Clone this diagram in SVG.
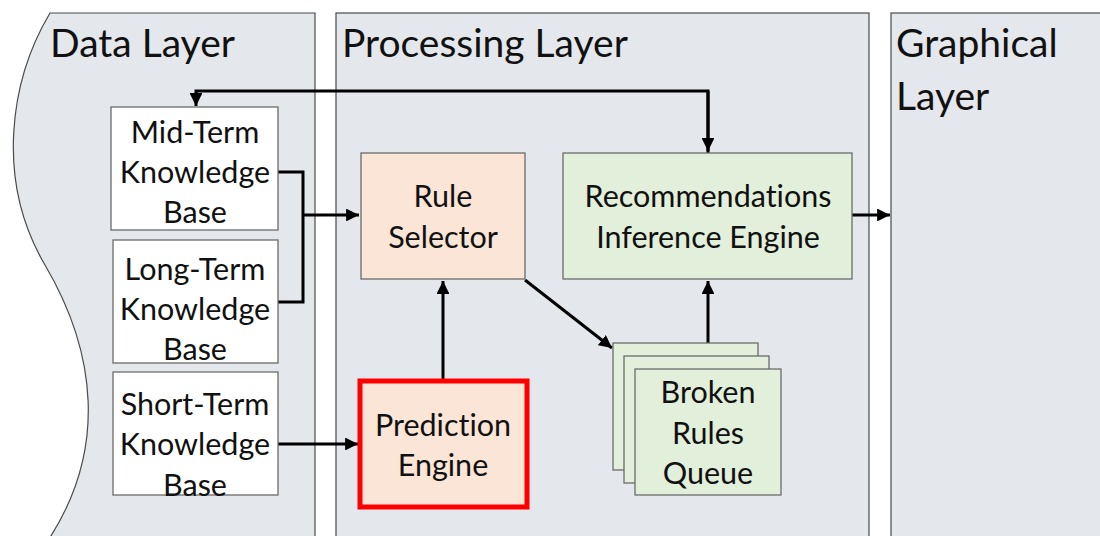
<svg xmlns="http://www.w3.org/2000/svg" width="1100" height="536" viewBox="0 0 1100 536">
<defs>
<style>
.panel{fill:#E4E7EB;stroke:#4a4a4a;stroke-width:1.2}
.node{stroke:#6b6b6b;stroke-width:1.3}
.white{fill:#ffffff}
.peach{fill:#FBE5D6}
.green{fill:#E2EFDA}
.t{font-family:Lato,"Open Sans","Liberation Sans",sans-serif;font-size:30.5px;fill:#111;text-anchor:middle;font-variant-ligatures:none}
.title{font-family:Lato,"Open Sans","Liberation Sans",sans-serif;font-size:39px;fill:#111;font-variant-ligatures:none}
.c{fill:none;stroke:#000;stroke-width:3}
</style>
<marker id="ah" viewBox="0 0 10 10" refX="10" refY="5" markerWidth="4.3" markerHeight="4.3" markerUnits="strokeWidth" orient="auto">
<path d="M0,0 L10,5 L0,10 Z" fill="#000"/>
</marker>
</defs>
<g id="data-layer">
<path class="panel" d="M315,13 H50 C10,80 -5,180 45,265 C95,350 110,450 45,545 H315 Z"/>
<text class="title" x="50" y="57">Data Layer</text>
</g>
<g id="processing-layer">
<rect class="panel" x="336" y="13" width="533" height="530"/>
<text class="title" x="342" y="57">Processing Layer</text>
</g>
<g id="graphical-layer">
<rect class="panel" x="891" y="13" width="220" height="530"/>
<text class="title" x="896" y="57">Graphical</text>
<text class="title" x="896" y="110">Layer</text>
</g>
<g id="connectors">
<polyline class="c" points="708,153 708,91 196,91 196,106" marker-end="url(#ah)"/>
<path class="c" d="M708,91 V151" marker-end="url(#ah)"/>
<polyline class="c" points="278,172 303,172 303,302 278,302"/>
<path class="c" d="M303,215 H359" marker-end="url(#ah)"/>
<path class="c" d="M278,444 H358" marker-end="url(#ah)"/>
<path class="c" d="M443,379 V281" marker-end="url(#ah)"/>
<path class="c" d="M525,280 L612,348" marker-end="url(#ah)"/>
<path class="c" d="M708,369 V281" marker-end="url(#ah)"/>
<path class="c" d="M852,215 H890" marker-end="url(#ah)"/>
</g>
<g id="mid-term">
<rect class="node white" x="111" y="107" width="167" height="123"/>
<text class="t" x="195" y="143">Mid-Term</text>
<text class="t" x="195" y="183">Knowledge</text>
<text class="t" x="195" y="223">Base</text>
</g>
<g id="long-term">
<rect class="node white" x="113" y="240" width="165" height="123"/>
<text class="t" x="195" y="280">Long-Term</text>
<text class="t" x="195" y="320">Knowledge</text>
<text class="t" x="195" y="360">Base</text>
</g>
<g id="short-term">
<rect class="node white" x="113" y="372" width="165" height="123"/>
<text class="t" x="195" y="415">Short-Term</text>
<text class="t" x="195" y="455">Knowledge</text>
<text class="t" x="195" y="496">Base</text>
</g>
<g id="rule-selector">
<rect class="node peach" x="361" y="153" width="164" height="126"/>
<text class="t" x="443" y="207">Rule</text>
<text class="t" x="443" y="248">Selector</text>
</g>
<g id="recommendations">
<rect class="node green" x="563" y="153" width="289" height="126"/>
<text class="t" x="708" y="207">Recommendations</text>
<text class="t" x="708" y="248">Inference Engine</text>
</g>
<g id="prediction-engine">
<rect x="360" y="381" width="167" height="126" fill="#FBE5D6" stroke="#ff0000" stroke-width="5"/>
<text class="t" x="443" y="436">Prediction</text>
<text class="t" x="443" y="476">Engine</text>
</g>
<g id="broken-rules-queue">
<rect class="node green" x="613" y="343" width="145" height="127"/>
<rect class="node green" x="624" y="356" width="145" height="127"/>
<rect class="node green" x="635" y="369" width="146" height="126"/>
<text class="t" x="708" y="403">Broken</text>
<text class="t" x="708" y="444">Rules</text>
<text class="t" x="708" y="484">Queue</text>
</g>
</svg>
